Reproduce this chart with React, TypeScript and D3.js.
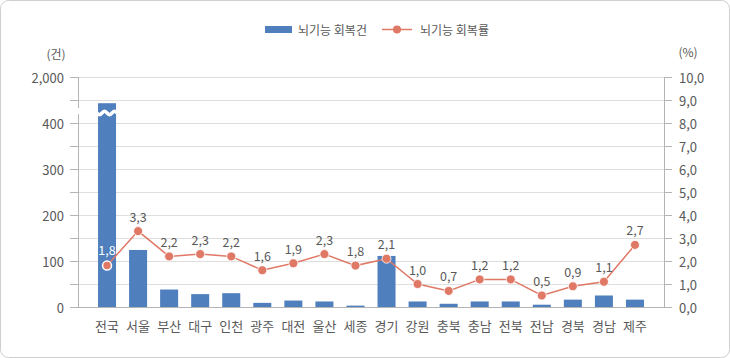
import React, { useRef, useEffect } from 'react';
import * as d3 from 'd3';

const regions = ['전국', '서울', '부산', '대구', '인천', '광주', '대전', '울산', '세종', '경기', '강원', '충북', '충남', '전북', '전남', '경북', '경남', '제주'];
const counts = [443, 124, 38, 28, 30, 9, 14, 12, 3, 111, 12, 7, 12, 12, 5, 16, 25, 16];
const rates = [1.8, 3.3, 2.2, 2.3, 2.2, 1.6, 1.9, 2.3, 1.8, 2.1, 1.0, 0.7, 1.2, 1.2, 0.5, 0.9, 1.1, 2.7];
const leftTicks = [0, 50, 100, 150, 200, 250, 300, 350, 400, 450, 2000];
const leftLabels = [0, 100, 200, 300, 400, 2000];
const rightTicks = [0, 1, 2, 3, 4, 5, 6, 7, 8, 9, 10];

const W = 730;
const H = 358;
const FONT = '"Noto Sans CJK KR", "Noto Sans", sans-serif';
const BAR = '#4f7fbc';
const LINE = '#e07866';
const TEXT = '#595959';

const comma = (v: number) => v.toFixed(1).replace('.', ',');

const App: React.FC = () => {
  const svgRef = useRef<SVGSVGElement>(null);

  useEffect(() => {
    if (!svgRef.current) return;
    const svg = d3.select(svgRef.current);
    svg.selectAll('*').remove();

    const left = 78;
    const right = 664;
    const bottom = 307;
    const top = 77;

    // broken left scale: 0-450 linear, then squeezed up to 2,000
    const y = d3.scaleLinear().domain([0, 450, 2000]).range([bottom, 100, top]);
    const yR = d3.scaleLinear().domain([0, 10]).range([bottom, top]);
    const x = d3.scaleBand().domain(regions).range([91.5, 650.5]).paddingInner(0.42).paddingOuter(0.21);

    // frame
    svg.append('rect')
      .attr('x', 0.5).attr('y', 0.5)
      .attr('width', W - 1).attr('height', H - 1)
      .attr('rx', 8)
      .attr('fill', '#fff')
      .attr('stroke', '#cfcfcf');

    // grid
    rightTicks.forEach(t => {
      if (t === 0) return;
      svg.append('line')
        .attr('x1', left).attr('x2', right)
        .attr('y1', yR(t) + 0.5).attr('y2', yR(t) + 0.5)
        .attr('stroke', '#dedede');
    });

    // left axis
    const axisColor = '#b4b4b4';
    svg.append('line').attr('x1', left + 0.5).attr('x2', left + 0.5).attr('y1', top).attr('y2', 108).attr('stroke', axisColor);
    svg.append('line').attr('x1', left + 0.5).attr('x2', left + 0.5).attr('y1', 114).attr('y2', bottom).attr('stroke', axisColor);
    leftTicks.forEach(t => {
      svg.append('line')
        .attr('x1', left - 8).attr('x2', left)
        .attr('y1', Math.round(y(t)) + 0.5).attr('y2', Math.round(y(t)) + 0.5)
        .attr('stroke', axisColor);
    });
    leftLabels.forEach(t => {
      svg.append('text')
        .attr('x', 64).attr('y', y(t))
        .attr('text-anchor', 'end').attr('dominant-baseline', 'central')
        .attr('font-family', FONT).attr('font-size', 13).attr('fill', TEXT)
        .text(d3.format(',')(t));
    });
    svg.append('text')
      .attr('x', 56).attr('y', 53)
      .attr('text-anchor', 'middle').attr('dominant-baseline', 'central')
      .attr('font-family', FONT).attr('font-size', 12).attr('fill', TEXT)
      .text('(건)');

    // right axis
    svg.append('line').attr('x1', right + 0.5).attr('x2', right + 0.5).attr('y1', top).attr('y2', bottom).attr('stroke', axisColor);
    rightTicks.forEach(t => {
      svg.append('line')
        .attr('x1', right).attr('x2', right + 8)
        .attr('y1', Math.round(yR(t)) + 0.5).attr('y2', Math.round(yR(t)) + 0.5)
        .attr('stroke', axisColor);
      svg.append('text')
        .attr('x', 679).attr('y', yR(t))
        .attr('text-anchor', 'start').attr('dominant-baseline', 'central')
        .attr('font-family', FONT).attr('font-size', 13).attr('fill', TEXT)
        .text(comma(t));
    });
    svg.append('text')
      .attr('x', 688).attr('y', 51)
      .attr('text-anchor', 'middle').attr('dominant-baseline', 'central')
      .attr('font-family', FONT).attr('font-size', 12).attr('fill', TEXT)
      .text('(%)');

    // bars
    regions.forEach((r, i) => {
      svg.append('rect')
        .attr('x', x(r)!).attr('width', x.bandwidth())
        .attr('y', y(counts[i])).attr('height', bottom - y(counts[i]))
        .attr('fill', BAR);
    });

    // break wave on the national bar
    const bx = x(regions[0])!;
    const bw = x.bandwidth();
    const wave = d3.line<[number, number]>().curve(d3.curveBasis);
    const pts: [number, number][] = [];
    for (let k = 0; k <= 8; k++) {
      const px = bx - 1 + (k * (bw + 2)) / 8;
      pts.push([px, 113 + (k % 4 === 1 ? 2.5 : k % 4 === 3 ? -2.5 : 0)]);
    }
    svg.append('path').attr('d', wave(pts)!).attr('fill', 'none').attr('stroke', '#fff').attr('stroke-width', 3.5);

    // baseline
    svg.append('line').attr('x1', left).attr('x2', right).attr('y1', bottom + 0.5).attr('y2', bottom + 0.5).attr('stroke', axisColor);

    // category labels
    regions.forEach(r => {
      svg.append('text')
        .attr('x', x(r)! + bw / 2).attr('y', 325)
        .attr('text-anchor', 'middle').attr('dominant-baseline', 'central')
        .attr('font-family', FONT).attr('font-size', 13).attr('fill', TEXT)
        .text(r);
    });

    // line
    const cx = (r: string) => x(r)! + bw / 2;
    const line = d3.line<number>().x((_, i) => cx(regions[i])).y(d => yR(d));
    svg.append('path').attr('d', line(rates)!).attr('fill', 'none').attr('stroke', LINE).attr('stroke-width', 1.5);
    rates.forEach((v, i) => {
      svg.append('circle')
        .attr('cx', cx(regions[i])).attr('cy', yR(v))
        .attr('r', 4.5)
        .attr('fill', LINE)
        .attr('stroke', '#fff').attr('stroke-width', i === 0 ? 1.5 : 0.8);
      svg.append('text')
        .attr('x', cx(regions[i])).attr('y', yR(v) - (i === 0 ? 16 : 15))
        .attr('text-anchor', 'middle').attr('dominant-baseline', 'central')
        .attr('font-family', FONT).attr('font-size', 12.5)
        .attr('fill', i === 0 ? '#fff' : TEXT)
        .text(comma(v));
    });

    // legend
    svg.append('rect').attr('x', 265).attr('y', 26).attr('width', 27).attr('height', 7).attr('fill', BAR);
    svg.append('text')
      .attr('x', 298).attr('y', 29.5)
      .attr('dominant-baseline', 'central')
      .attr('font-family', FONT).attr('font-size', 12).attr('fill', TEXT)
      .text('뇌기능 회복건');
    svg.append('line').attr('x1', 382).attr('x2', 412).attr('y1', 29.5).attr('y2', 29.5).attr('stroke', LINE).attr('stroke-width', 1.5);
    svg.append('circle').attr('cx', 397).attr('cy', 29.5).attr('r', 4).attr('fill', LINE);
    svg.append('text')
      .attr('x', 420).attr('y', 29.5)
      .attr('dominant-baseline', 'central')
      .attr('font-family', FONT).attr('font-size', 12).attr('fill', TEXT)
      .text('뇌기능 회복률');
  }, []);

  return (
    <svg
      ref={svgRef}
      width={W}
      height={H}
      style={{ position: 'absolute', left: 0, top: 0, display: 'block' }}
    />
  );
};

export default App;
